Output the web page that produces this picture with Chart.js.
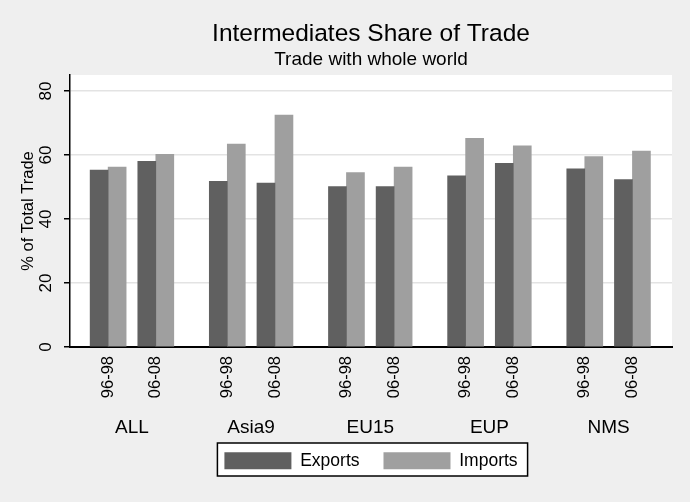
<!DOCTYPE html>
<html lang="en">
<head>
<meta charset="UTF-8">
<title>Intermediates Share of Trade</title>
<script src="https://cdn.jsdelivr.net/npm/chart.js"></script>
<style>
  html, body { margin: 0; padding: 0; background: #efefef; }
  .wrap { position: relative; width: 690px; height: 502px; }
</style>
</head>
<body>
<div class="wrap"><canvas id="tradeChart"></canvas></div>

<script>
  // Regions and periods shown on the x axis
  const regions = ['ALL', 'Asia9', 'EU15', 'EUP', 'NMS'];
  const periods = ['96-98', '06-08'];

  // Intermediates share of total trade (%), per region: 96-98 then 06-08
  const exportsShare = [55.3, 58.0, 51.8, 51.2, 50.1, 50.1, 53.5, 57.4, 55.7, 52.3];
  const importsShare = [56.2, 60.2, 63.4, 72.5, 54.5, 56.2, 65.2, 62.9, 59.5, 61.2];

  const yTicks = [0, 20, 40, 60, 80];

  // each region takes 5 slots, the two periods sit 2 slots apart
  const slotOf = (r, p) => r * 5 + p * 2;

  const barSlots = [];
  const barLabels = [];
  regions.forEach((reg, r) => {
    periods.forEach((per, p) => {
      barSlots.push(slotOf(r, p));
      barLabels.push(per);
    });
  });
  const groupSlots = regions.map((reg, r) => slotOf(r, 0) + 1);

  const toPoints = values => values.map((v, i) => ({ x: barSlots[i], y: v }));

  Chart.defaults.font.family = "'Liberation Sans', Arial, sans-serif";
  Chart.defaults.color = '#000';

  // grey page, white plot region, framed legend
  const backdrop = {
    id: 'backdrop',
    beforeDraw(chart) {
      const { ctx, chartArea: a, legend } = chart;
      ctx.save();
      ctx.fillStyle = '#efefef';
      ctx.fillRect(0, 0, chart.width, chart.height);
      ctx.fillStyle = '#ffffff';
      ctx.fillRect(a.left, a.top, a.right - a.left, a.bottom - a.top);
      const hb = legend && legend.legendHitBoxes;
      if (hb && hb.length) {
        const last = hb[hb.length - 1];
        const l = hb[0].left - 7, r = last.left + last.width + 10;
        const t = hb[0].top - 9, b = hb[0].top + 17 + 7;
        ctx.fillRect(l, t, r - l, b - t);
        ctx.strokeStyle = '#000';
        ctx.lineWidth = 1.5;
        ctx.strokeRect(l, t, r - l, b - t);
      }
      ctx.restore();
    }
  };

  const ctx = document.getElementById('tradeChart').getContext('2d');
  new Chart(ctx, {
    type: 'bar',
    data: {
      datasets: [
        { label: 'Exports', data: toPoints(exportsShare), backgroundColor: '#606060', borderWidth: 0, barThickness: 18 },
        { label: 'Imports', data: toPoints(importsShare), backgroundColor: '#9f9f9f', borderWidth: 0, barThickness: 18 }
      ]
    },
    options: {
      responsive: true,
      maintainAspectRatio: false,
      animation: false,
      layout: { padding: { left: 0, right: 18, top: 0, bottom: 22.5 } },
      scales: {
        x: {
          type: 'linear',
          offset: false,
          min: -1.6,
          max: 23.66,
          grid: { display: false, drawTicks: false },
          border: { display: true, color: '#000', width: 2 },
          afterBuildTicks: s => { s.ticks = barSlots.map(v => ({ value: v })); },
          afterFit: s => { s.height = 62; s.paddingLeft = 0; s.paddingRight = 0; },
          ticks: {
            autoSkip: false,
            minRotation: 90,
            maxRotation: 90,
            padding: 9,
            font: { size: 16.5 },
            callback: v => barLabels[barSlots.indexOf(v)]
          }
        },
        x2: {
          type: 'linear',
          position: 'bottom',
          weight: 1,
          offset: false,
          min: -1.6,
          max: 23.66,
          grid: { display: false, drawTicks: false },
          border: { display: false },
          afterBuildTicks: s => { s.ticks = groupSlots.map(v => ({ value: v })); },
          afterFit: s => {
            s.height = 19; s.paddingLeft = 0; s.paddingRight = 0;
            // region names hang a little below this thin box, so don't clip them
            s._computeLabelArea = () => undefined;
          },
          ticks: {
            autoSkip: false,
            minRotation: 0,
            maxRotation: 0,
            padding: 7.5,
            font: { size: 19 },
            callback: v => regions[groupSlots.indexOf(v)]
          }
        },
        y: {
          min: 0,
          max: 85,
          afterBuildTicks: s => { s.ticks = yTicks.map(v => ({ value: v })); },
          afterFit: s => { s.width = 70; s.paddingTop = 0; s.paddingBottom = 0; },
          grid: {
            color: c => (c.tick && c.tick.value === 0) ? 'rgba(0,0,0,0)' : '#e3e3e3',
            tickColor: '#000',
            lineWidth: 1.5,
            tickLength: 6
          },
          border: { display: true, color: '#000', width: 1.5 },
          ticks: {
            minRotation: 90,
            maxRotation: 90,
            crossAlign: 'center',
            padding: 8,
            font: { size: 17 }
          },
          title: {
            display: true,
            text: '% of Total Trade',
            font: { size: 16.5 },
            padding: { top: 19, bottom: 0 }
          }
        }
      },
      plugins: {
        title: {
          display: true,
          text: 'Intermediates Share of Trade',
          fullSize: false,
          font: { size: 24.5, weight: 'normal', lineHeight: 1 },
          padding: { top: 22, bottom: 0 }
        },
        subtitle: {
          display: true,
          text: 'Trade with whole world',
          fullSize: false,
          font: { size: 19, lineHeight: 1 },
          padding: { top: 4, bottom: 5.5 }
        },
        legend: {
          position: 'bottom',
          fullSize: false,
          labels: {
            boxWidth: 67,
            boxHeight: 17,
            padding: 24,
            font: { size: 17.5 }
          }
        },
        tooltip: { enabled: false }
      }
    },
    plugins: [backdrop]
  });
</script>
</body>
</html>
